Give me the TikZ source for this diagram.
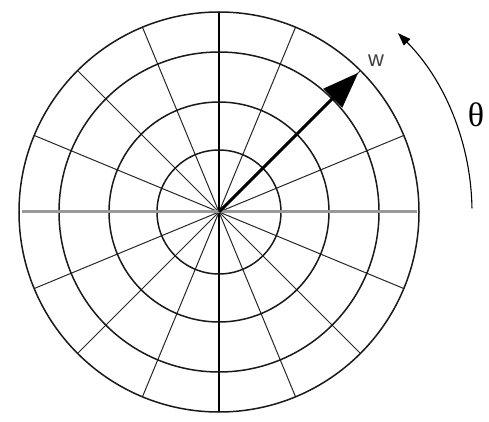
\documentclass[tikz,border=0pt]{standalone}
\usepackage{fontspec}
\setmainfont{Liberation Serif}
\setsansfont{Liberation Sans}
\usetikzlibrary{arrows.meta}
\begin{document}
\begin{tikzpicture}[x=1pt, y=1pt,
  ring/.style={line width=1.5pt, black!90},
  spoke/.style={line width=1pt, black!85},
  axis/.style={line width=3pt, black!40}]
\useasboundingbox (-219,-210) rectangle (270,212);
\coordinate (o) at (0,0);
% spokes every 22.5 degrees, the horizontal one is grey
\foreach \k in {1,2,3,4,5,6,7,9,10,11,12,13,14,15}
  \draw[spoke] (o) -- (\k*22.5:200);
\draw[line width=1.3pt] (0,200) -- (0,-200);
\foreach \r in {62,110,160,200}
  \draw[ring] (o) circle (\r);
\coordinate (xl) at (-197,0);
\coordinate (xr) at (198,0);
\draw[axis] (xl) -- (xr);
% the vector w
\coordinate (wtip) at (45:197);
\draw[line width=3pt, -{Triangle[length=36pt,width=26pt]}] (o) -- (wtip);
\node[font=\sffamily\fontsize{22}{22}\selectfont, text=black!75] (wl) at (157,151) {w};
% rotation angle
\coordinate (thstart) at (0.8:253);
\draw[line width=1.1pt, -{Triangle[length=13pt,width=9pt]}] (thstart) arc[start angle=0.8, end angle=45, radius=253];
\node[font=\fontsize{34}{34}\selectfont] (th) at (257,97) {θ};
\end{tikzpicture}
\end{document}
